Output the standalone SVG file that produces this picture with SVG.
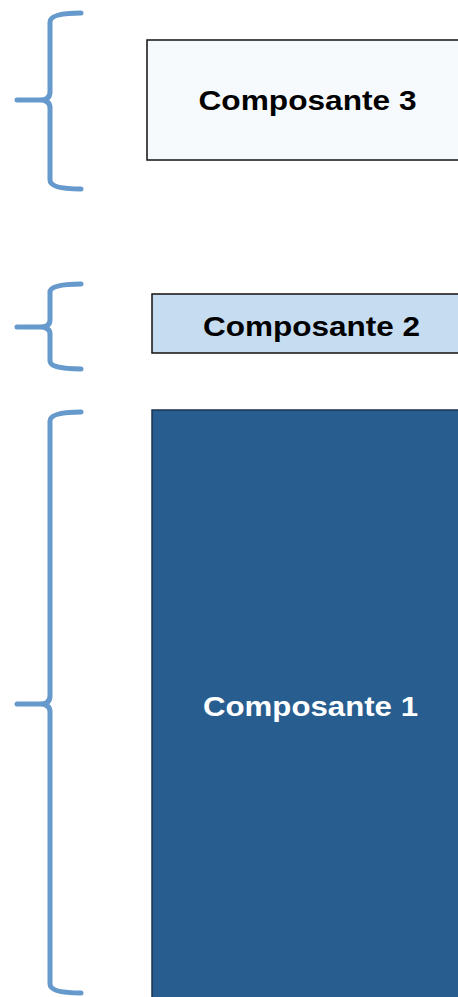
<svg xmlns="http://www.w3.org/2000/svg" width="458" height="997" viewBox="0 0 458 997">
<style>
.brace{fill:none;stroke:#6699cc;stroke-width:5;stroke-linecap:round;stroke-linejoin:round}
.lbl{font-family:"Liberation Sans",Arial,sans-serif;font-weight:bold;font-size:28.5px}
</style>
<rect width="458" height="997" fill="#ffffff"/>
<g id="connectors">
<path class="brace" d="M81,13 Q50,13 50,22 L50,92 Q50,100 40,100 L17,100 M40,100 Q50,100 50,108 L50,180 Q50,189 81,189"/>
<path class="brace" d="M81,284 Q50,284 50,292 L50,320 Q50,327 40,327 L17,327 M40,327 Q50,327 50,334 L50,361 Q50,369 81,369"/>
<path class="brace" d="M81,412 Q50,412 50,421 L50,696 Q50,704 40,704 L17,704 M40,704 Q50,704 50,712 L50,984 Q50,993 81,993"/>
</g>
<g id="node3">
<rect x="147" y="40" width="320" height="120" fill="#f7fafc" stroke="#111" stroke-width="1.5"/>
<text class="lbl" x="198.5" y="110" textLength="218" lengthAdjust="spacingAndGlyphs" fill="#000">Composante 3</text>
</g>
<g id="node2">
<rect x="152" y="294" width="320" height="59" fill="#c6dcf0" stroke="#111" stroke-width="1.5"/>
<text class="lbl" x="203" y="335.5" textLength="217" lengthAdjust="spacingAndGlyphs" fill="#000">Composante 2</text>
</g>
<g id="node1">
<rect x="152" y="410" width="320" height="600" fill="#275d8f" stroke="#1e3550" stroke-width="1.5"/>
<text class="lbl" x="203" y="716" textLength="215" lengthAdjust="spacingAndGlyphs" fill="#ffffff">Composante 1</text>
</g>
</svg>
